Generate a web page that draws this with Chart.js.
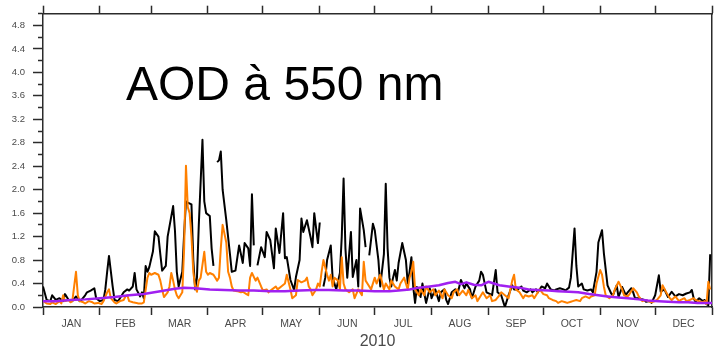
<!DOCTYPE html>
<html>
<head>
<meta charset="utf-8">
<title>AOD 550 nm - 2010</title>
<script src="https://cdn.jsdelivr.net/npm/chart.js@4.4.1/dist/chart.umd.min.js"></script>
<style>
  body { margin: 0; background: #fff; }
  #wrapper { position: relative; width: 715px; height: 355px; }
  #aod_label {
    position: absolute; left: 126px; top: 60px;
    font-family: 'Liberation Sans', Arial, sans-serif; font-size: 48px; line-height: 48px;
    color: #000; white-space: nowrap;
  }
</style>
</head>
<body>
<div id="wrapper">
  <canvas id="myChart" width="715" height="355"></canvas>
  <div id="aod_label">AOD à 550 nm</div>
</div>
<script>
// day of year where each month starts (2010)
const month_start = [0, 31, 59, 90, 120, 151, 181, 212, 243, 273, 304, 334, 365];
const month_names = ['JAN', 'FEB', 'MAR', 'APR', 'MAY', 'JUN', 'JUL', 'AUG', 'SEP', 'OCT', 'NOV', 'DEC'];
const year_label = '2010';

// observed AOD (black), null = no data
const black_days = [0,2,4,5,7,9,11,12,14,16,
  18,20,21,23,24,26,28,29,31,33,
  34,35,36,38,39,41,42,44,46,47,
  49,50,51,53,54,55,56,57,58,60,
  61,63,64,65,67,68,71,72,73,74,
  76,77,78,79,81,82,83,84,85,87,
  88,89,91,92,93,94,95,96,97,98,
  100,102,103,105,107,109,110,112,113,114,
  115,116,117,119,121,122,124,126,127,129,
  131,132,133,135,137,138,140,141,142,144,
  146,147,148,150,151,152,153,154,155,157,
  158,160,162,163,164,165,166,168,169,171,
  172,173,175,176,177,178,180,181,183,184,
  186,187,188,189,190,191,192,193,194,196,
  198,199,200,201,202,203,204,206,207,209,
  211,212,214,216,217,219,220,221,223,225,
  226,228,230,231,233,234,236,238,239,240,
  242,244,245,247,248,250,251,252,254,256,
  257,259,261,262,264,266,267,269,270,272,
  274,275,277,279,280,282,284,285,287,288,
  290,291,292,294,295,297,299,300,302,303,
  305,306,308,310,311,313,314,316,318,319,
  321,322,323,325,328,329,331,332,334,336,
  337,339,341,343,345,347,349,351,353,354,
  355,356,358,360,361,362,363,364];
const black_aod = [0.35,0.12,0.1,0.2,0.12,0.15,0.1,0.22,0.12,0.1,
  0.18,0.1,0.12,0.2,0.25,0.28,0.32,0.15,0.1,0.12,
  0.3,0.6,0.87,0.35,0.12,0.1,0.15,0.25,0.3,0.28,
  0.35,0.58,0.3,0.18,0.25,0.15,0.7,0.6,0.68,0.95,
  1.29,1.2,0.9,0.62,0.7,1.2,1.72,1.3,0.6,0.35,
  0.6,1.25,1.8,1.78,1.75,0.8,0.3,0.5,1.4,2.85,
  1.8,1.6,1.55,1.0,0.7,null,2.47,2.5,2.65,2.0,
  1.48,0.9,0.6,0.62,1.05,0.75,1.09,1.0,0.7,1.92,
  1.05,null,0.71,1.02,0.85,1.28,1.14,0.66,1.34,0.92,
  1.6,0.83,0.85,0.46,0.29,0.51,0.8,1.51,1.28,1.48,
  1.19,1.02,1.6,1.09,1.44,null,0.35,0.5,0.8,1.05,
  0.5,0.3,0.58,1.2,2.19,1.0,0.5,1.28,0.51,0.8,
  0.35,1.68,1.31,1.02,null,0.88,1.42,1.31,0.8,0.35,
  0.9,2.1,1.0,0.5,0.35,0.5,0.63,0.45,0.75,1.09,
  0.8,0.4,0.6,0.85,0.34,0.07,0.34,0.17,0.4,0.07,
  0.32,0.15,0.3,0.1,0.25,0.3,0.12,0.05,0.25,0.3,
  0.2,0.46,0.32,0.4,0.3,0.15,0.35,0.45,0.6,0.55,
  0.25,0.22,0.2,0.63,0.25,0.2,0.1,0.0,0.2,0.37,
  0.3,0.3,0.35,0.28,0.25,0.3,0.25,0.3,0.25,0.35,
  0.32,0.4,0.3,0.28,0.3,0.32,0.3,0.28,0.33,0.5,
  1.34,0.7,0.35,0.4,0.3,0.28,0.3,0.25,0.6,1.1,
  1.31,0.92,0.37,0.23,0.2,0.37,0.17,0.34,0.2,0.25,
  0.32,0.25,0.15,0.15,0.12,0.09,0.1,0.07,0.2,0.54,
  0.26,0.3,0.17,0.26,0.18,0.22,0.2,0.23,0.25,0.29,
  0.15,0.09,0.15,0.1,0.12,0.05,0.03,0.9];

// model AOD (orange)
const orange_days = [0,2,4,5,7,9,10,11,12,14,
  15,16,17,18,19,20,22,23,25,27,
  28,30,32,33,35,36,37,39,40,42,
  44,45,46,47,49,51,52,54,55,57,
  58,59,61,63,64,65,66,68,69,70,
  71,72,73,74,76,77,78,79,80,81,
  82,83,84,85,86,88,89,90,91,93,
  95,96,97,98,100,101,102,103,104,106,
  108,109,111,112,113,114,116,117,119,120,
  122,123,125,127,128,130,132,133,135,136,
  138,139,141,143,144,145,146,147,149,150,
  151,152,153,155,156,157,158,159,161,162,
  163,164,165,167,169,170,172,174,175,176,
  177,179,181,182,184,186,187,189,190,192,
  194,195,197,199,200,201,202,203,205,206,
  208,209,211,213,214,216,218,219,221,223,
  224,226,227,229,231,232,234,236,237,239,
  240,242,244,245,247,249,250,252,254,255,
  256,257,258,260,262,263,265,267,268,270,
  271,273,275,276,278,280,281,283,285,286,
  288,289,291,293,294,296,298,299,301,302,
  304,305,306,307,309,311,312,314,316,317,
  319,320,322,324,325,327,329,330,332,334,
  335,337,338,340,342,343,345,347,348,350,
  351,353,355,356,358,360,361,362,363,364];
const orange_aod = [0.1,0.06,0.05,0.08,0.05,0.1,0.06,0.2,0.1,0.12,
  0.08,0.1,0.35,0.6,0.2,0.1,0.08,0.06,0.1,0.08,
  0.06,0.07,0.05,0.1,0.25,0.3,0.15,0.08,0.06,0.1,
  0.12,0.18,0.2,0.1,0.08,0.07,0.06,0.06,0.08,0.5,
  0.58,0.55,0.58,0.55,0.45,0.3,0.17,0.25,0.35,0.58,
  0.45,0.3,0.2,0.15,0.25,1.0,2.41,1.7,1.6,1.2,
  0.6,0.35,0.26,0.45,0.5,0.94,0.6,0.55,0.58,0.55,
  0.45,0.5,1.0,1.4,1.1,0.6,0.5,0.35,0.28,0.27,
  0.25,0.26,0.22,0.2,0.5,0.58,0.45,0.5,0.35,0.28,
  0.3,0.25,0.3,0.35,0.3,0.35,0.4,0.55,0.3,0.15,
  0.2,0.46,0.42,0.45,0.5,0.35,0.3,0.2,0.3,0.4,
  0.35,0.6,0.8,0.55,0.45,0.55,0.35,0.5,0.45,0.3,
  0.85,0.4,0.3,0.25,0.3,0.15,0.3,0.2,0.77,0.45,
  0.4,0.3,0.5,0.4,0.55,0.3,0.4,0.3,0.45,0.35,
  0.3,0.4,0.5,0.3,0.5,0.6,0.77,0.3,0.2,0.3,
  0.2,0.35,0.25,0.3,0.2,0.28,0.15,0.3,0.2,0.15,
  0.25,0.3,0.2,0.28,0.2,0.29,0.15,0.2,0.1,0.2,
  0.25,0.15,0.2,0.1,0.12,0.2,0.25,0.2,0.15,0.3,
  0.45,0.55,0.3,0.25,0.15,0.2,0.18,0.2,0.15,0.25,
  0.3,0.22,0.2,0.15,0.12,0.1,0.07,0.1,0.08,0.07,
  0.09,0.1,0.12,0.1,0.15,0.18,0.15,0.18,0.2,0.4,
  0.63,0.55,0.35,0.2,0.15,0.2,0.3,0.43,0.3,0.2,
  0.18,0.22,0.32,0.25,0.18,0.1,0.12,0.1,0.08,0.1,
  0.12,0.2,0.37,0.25,0.15,0.12,0.18,0.1,0.12,0.15,
  0.1,0.12,0.15,0.12,0.1,0.08,0.1,0.05,0.43,0.3];

// smooth background (purple)
const purple_days = [0,7,15,23,31,39,47,55,64,72,
  77,83,91,99,107,115,124,132,140,148,
  156,164,172,181,189,194,200,205,211,216,
  221,225,228,231,235,239,243,249,254,260,
  265,270,276,281,287,292,298,303,308,314,
  319,325,330,336,341,347,352,357,365];
const purple_aod = [0.1,0.1,0.12,0.13,0.15,0.17,0.2,0.22,0.27,0.31,
  0.33,0.32,0.3,0.29,0.28,0.28,0.27,0.27,0.28,0.29,
  0.29,0.28,0.28,0.27,0.27,0.28,0.3,0.33,0.35,0.37,
  0.41,0.43,0.39,0.42,0.38,0.37,0.43,0.37,0.35,0.33,
  0.3,0.29,0.28,0.27,0.26,0.25,0.22,0.2,0.18,0.16,
  0.15,0.13,0.11,0.1,0.09,0.08,0.08,0.07,0.07];

const month_mid = month_names.map((m, i) => (month_start[i] + month_start[i + 1]) / 2);

const axis_color = '#2b2b2b';
const label_color = '#4a4a4a';

Chart.defaults.font.family = "'Liberation Sans', Arial, sans-serif";

function to_points(days, values) {
    return days.map((d, i) => ({ x: d, y: values[i] }));
}

const is_mid = v => month_mid.indexOf(v) !== -1;
const is_major = v => Math.round(v * 10) % 4 === 0;

const ctx = document.getElementById('myChart').getContext('2d');

var chart = new Chart(ctx, {
    type: 'line',
    data: {
        datasets: [{
            label: 'background',
            data: to_points(purple_days, purple_aod),
            borderColor: '#a020f0',
            borderWidth: 2.5,
            order: 0,
        }, {
            label: 'model',
            data: to_points(orange_days, orange_aod),
            borderColor: '#ff8000',
            borderWidth: 2,
            order: 1,
        }, {
            label: 'observed',
            data: to_points(black_days, black_aod),
            borderColor: '#000000',
            borderWidth: 2,
            order: 2,
        }]
    },
    options: {
        responsive: false,
        animation: false,
        devicePixelRatio: 1,
        spanGaps: false,
        layout: { padding: 0 },
        elements: {
            point: { radius: 0 },
            line: { tension: 0, borderJoinStyle: 'round' },
        },
        plugins: {
            legend: { display: false },
            tooltip: { enabled: false },
        },
        scales: {
            x: {
                type: 'linear',
                position: 'bottom',
                min: 0,
                max: 365,
                afterBuildTicks: scale => {
                    scale.ticks = month_start.concat(month_mid).sort((a, b) => a - b).map(v => ({ value: v }));
                },
                afterFit: scale => { scale.height = 48; },
                grid: {
                    drawOnChartArea: false,
                    tickLength: 8,
                    tickWidth: 1.5,
                    tickColor: c => is_mid(c.tick.value) ? 'rgba(0,0,0,0)' : axis_color,
                },
                border: { color: axis_color, width: 1.5 },
                ticks: {
                    autoSkip: false,
                    maxRotation: 0,
                    padding: 3,
                    color: label_color,
                    font: { size: 10.5 },
                    callback: v => is_mid(v) ? month_names[month_mid.indexOf(v)] : '',
                },
                title: {
                    display: true,
                    text: year_label,
                    color: label_color,
                    font: { size: 16 },
                    padding: { top: 0, bottom: 4 },
                },
            },
            x_top: {
                type: 'linear',
                position: 'top',
                min: 0,
                max: 365,
                afterBuildTicks: scale => {
                    scale.ticks = month_start.map(v => ({ value: v }));
                },
                afterFit: scale => { scale.height = 12; },
                grid: { drawOnChartArea: false, tickLength: 8, tickWidth: 1.5, tickColor: axis_color },
                border: { color: axis_color, width: 1.5 },
                ticks: { display: false },
            },
            y: {
                type: 'linear',
                position: 'left',
                min: 0,
                max: 5,
                afterFit: scale => { scale.width = 43; },
                grid: {
                    drawOnChartArea: false,
                    tickLength: 10,
                    tickWidth: 1.5,
                    tickColor: axis_color,
                    tickBorderDash: c => is_major(c.tick.value) ? [] : [5, 5],
                    tickBorderDashOffset: 5,
                },
                border: { color: axis_color, width: 1.5 },
                ticks: {
                    stepSize: 0.2,
                    autoSkip: false,
                    padding: 8,
                    color: label_color,
                    font: { size: 9.5 },
                    callback: v => is_major(v) ? v.toFixed(1) : '',
                },
            },
            y_right: {
                type: 'linear',
                position: 'right',
                min: 0,
                max: 5,
                afterFit: scale => { scale.width = 1; },
                grid: { drawOnChartArea: false, drawTicks: false },
                border: { color: axis_color, width: 1.5 },
                ticks: { display: false },
            },
        },
    },
});
</script>
</body>
</html>
